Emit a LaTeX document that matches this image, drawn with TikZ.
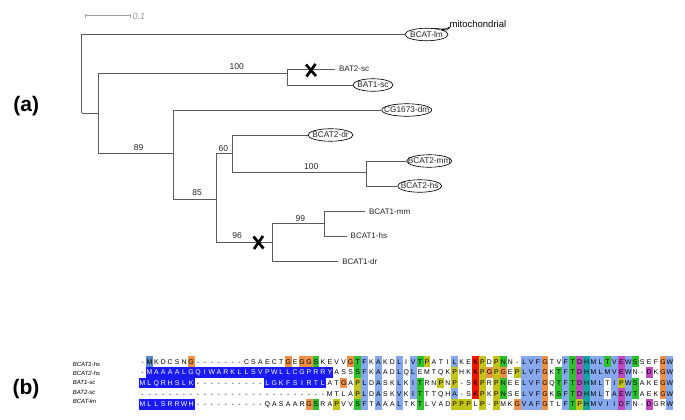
\documentclass[tikz,border=0pt]{standalone}
\usepackage{fontspec}
\setmainfont{Liberation Sans}
\usetikzlibrary{shapes.geometric}
\definecolor{cxblue}{HTML}{85A8EE}
\definecolor{cxorange}{HTML}{F09048}
\definecolor{cxgreen}{HTML}{2DC22D}
\definecolor{cxyellow}{HTML}{C4C416}
\definecolor{cxred}{HTML}{F01505}
\definecolor{cxmag}{HTML}{C048C0}
\definecolor{cxcyan}{HTML}{15A4A4}
\definecolor{seqblue}{HTML}{1A1AF5}
\definecolor{steelm}{HTML}{5B86C8}
\definecolor{treegray}{HTML}{5A5A5A}
\newcommand\cbg[3]{\fill[#3] ({139+(#2-1)*6.94},{361.6+(#1-1)*10.65-5.33}) rectangle ++(6.94,10.66);}
\newcommand\runbg[4]{\fill[#4] ({139+(#2-1)*6.94},{361.6+(#1-1)*10.65-5.33}) rectangle ({139+(#3)*6.94},{361.6+(#1-1)*10.65+5.33});}
\newcommand\seqrow[4]{\foreach \ch [count=\k from #2] in {#4} {\node[aa,text=#3] (a#1-\k) at ({139+(\k-0.5)*6.94},{361.6+(#1-1)*10.65}) {\ch};}}
\tikzset{
  br/.style={draw=treegray, line width=0.7pt},
  ell/.style={ellipse, draw=black, line width=0.65pt, fill=white, inner sep=0pt, minimum height=12.5pt},
  lab/.style={font=\fontsize{8.3}{9}\selectfont, inner sep=0pt, text=black!85},
  leaf/.style={font=\fontsize{8}{9}\selectfont, anchor=west, inner xsep=3.8pt, inner ysep=0pt, text=black!85},
  boot/.style={font=\fontsize{8.5}{10}\selectfont, inner sep=0pt, text=black!85},
  xmark/.style={line width=2.7pt, black},
  aa/.style={font=\fontsize{6.9}{7}\selectfont, inner sep=0pt, text height=5pt, text depth=0pt, anchor=center},
  nm/.style={font=\fontsize{6}{7}\selectfont\itshape, inner sep=0pt, anchor=west},
  panel/.style={font=\fontsize{21}{24}\selectfont\bfseries, inner sep=0pt}
}
\begin{document}
\begin{tikzpicture}[x=1pt,y=-1pt]
\useasboundingbox (0,0) rectangle (685,420);
\fill[white] (0,0) rectangle (685,420);

% ---------- panel labels ----------
\node[panel] (pa) at (26.3,105.8) {(a)};
\node[panel] (pb) at (26,389) {(b)};

% ---------- scale bar ----------
\coordinate (sb1) at (85,15.7);
\coordinate (sb2) at (130,15.7);
\draw[gray!75, line width=0.6pt] (sb1) -- (sb2);
\draw[gray!75, line width=0.6pt] ([yshift=-2pt]sb1) -- ([yshift=2pt]sb1);
\draw[gray!75, line width=0.6pt] ([yshift=-2pt]sb2) -- ([yshift=2pt]sb2);
\node[font=\fontsize{9}{10}\selectfont\itshape, text=gray!80, anchor=west, inner sep=0pt] (sbl) at (132.5,16.3) {0.1};

% ---------- tree internal nodes ----------
\coordinate (r) at (81.7,113);
\coordinate (A) at (98.3,113);
\coordinate (BAT) at (287.7,73);
\coordinate (B) at (173.3,153);
\coordinate (C) at (216,199);
\coordinate (D) at (232,153);
\coordinate (E) at (366.7,172.7);
\coordinate (F) at (272,242.7);
\coordinate (G) at (324.3,223.3);

% ---------- leaves ----------
\node[ell, minimum width=43pt] (lm) at (426.5,34.5) {};
\node[lab] (lmt) at (lm.center) {BCAT-lm};
\node[ell, minimum width=40pt] (bat1) at (373,85) {};
\node[lab] (bat1t) at (bat1.center) {BAT1-sc};
\node[ell, minimum width=50pt] (cg) at (406.7,110) {};
\node[lab] (cgt) at (cg.center) {CG1673-dm};
\node[ell, minimum width=45pt] (dr) at (330.5,135) {};
\node[lab] (drt) at (dr.center) {BCAT2-dr};
\node[ell, minimum width=45pt] (mm) at (429.2,161) {};
\node[lab] (mmt) at (mm.center) {BCAT2-mm};
\node[ell, minimum width=44pt] (hs) at (419.7,186) {};
\node[lab] (hst) at (hs.center) {BCAT2-hs};
\node[leaf] (bat2) at (335,69) {BAT2-sc};
\node[leaf] (b1mm) at (365,211.7) {BCAT1-mm};
\node[leaf] (b1hs) at (346.7,236) {BCAT1-hs};
\node[leaf] (b1dr) at (338.3,261.7) {BCAT1-dr};
\node[font=\fontsize{9.5}{11}\selectfont, anchor=west, inner sep=0pt] (mito) at (449.5,24) {mitochondrial};
\draw[black, line width=0.65pt, fill=white] (lm.40) .. controls (446,29.5) .. (450,27) .. controls (448.5,29.5) and (448,31) .. (lm.18);

% ---------- branches ----------
\draw[br] (r) |- (lm.west);
\draw[br] (r) -- (A);
\draw[br] (A) |- (BAT);
\draw[br] (A) |- (B);
\draw[br] (BAT) |- (bat2.west);
\draw[br] (BAT) |- (bat1.west);
\draw[br] (B) |- (cg.west);
\draw[br] (B) |- (C);
\draw[br] (C) |- (D);
\draw[br] (C) |- (F);
\draw[br] (D) |- (dr.west);
\draw[br] (D) |- (E);
\draw[br] (E) |- (mm.west);
\draw[br] (E) |- (hs.west);
\draw[br] (F) |- (G);
\draw[br] (F) |- (b1dr.west);
\draw[br] (G) |- (b1mm.west);
\draw[br] (G) |- (b1hs.west);

% ---------- loss marks ----------
\draw[xmark] (306,64.5) -- (316,76);
\draw[xmark] (315.5,64) -- (306.5,76.5);
\draw[xmark] (253.5,236.5) -- (263.5,248.5);
\draw[xmark] (263,236) -- (254,249);

% ---------- bootstrap values ----------
\node[boot] (bs1) at (236.7,66.3) {100};
\node[boot] (bs2) at (138.7,147.7) {89};
\node[boot] (bs3) at (223.3,148.3) {60};
\node[boot] (bs4) at (311.2,166.7) {100};
\node[boot] (bs5) at (197,192.3) {85};
\node[boot] (bs6) at (300.3,218.3) {99};
\node[boot] (bs7) at (237.2,236) {96};

% ---------- alignment backgrounds ----------
\runbg{2}{2}{28}{seqblue}
\runbg{3}{1}{8}{seqblue}
\runbg{3}{19}{27}{seqblue}
\runbg{5}{1}{8}{seqblue}
\cbg{1}{2}{steelm}
\foreach \c in {33,35,38,56,57,58,62,66,67,69,71,77} {\foreach \r in {1,...,5} {\cbg{\r}{\c}{cxblue}}}
\foreach \r/\c in {1/40,2/40,3/40,4/40,1/46,4/46,2/68,5/68} {\cbg{\r}{\c}{cxblue}}
\foreach \r in {1,...,5} {\cbg{\r}{65}{cxcyan}}
\foreach \r/\c in {1/8,1/22,1/24,1/25,1/31,1/59,1/76,2/51,2/53,2/59,2/76,3/30,3/59,3/76,4/59,4/76,5/25,5/55,5/59} {\cbg{\r}{\c}{cxorange}}
\foreach \r/\c in {1/26,1/32,1/41,1/53,1/63,1/68,1/72,2/32,2/61,2/63,3/41,3/53,3/61,3/63,3/72,4/41,4/53,4/61,4/63,4/72,5/26,5/32,5/41,5/63} {\cbg{\r}{\c}{cxgreen}}
\foreach \r/\c in {1/42,1/50,1/52,2/46,2/50,2/52,2/55,3/32,3/44,3/46,3/50,3/52,3/70,4/32,4/50,4/52,5/29,5/46,5/47,5/48,5/50,5/52,5/64} {\cbg{\r}{\c}{cxyellow}}
\foreach \r in {1,...,4} {\cbg{\r}{49}{cxred}}
\foreach \r/\c in {1/64,1/70,2/64,2/70,2/74,3/64,4/64,4/70,5/70,5/74} {\cbg{\r}{\c}{cxmag}}

% ---------- alignment letters ----------
\seqrow{1}{1}{black}{-,M,K,D,C,S,N,G,-,-,-,-,-,-,-,C,S,A,E,C,T,G,E,G,G,S,K,E,V,V,G,T,F,K,A,K,D,L,I,V,T,P,A,T,I,L,K,E,K,P,D,P,N,N,-,L,V,F,G,T,V,F,T,D,H,M,L,T,V,E,W,S,S,E,F,G,W}
\seqrow{2}{1}{black}{-}
\seqrow{2}{2}{white}{M,A,A,A,A,L,G,Q,I,W,A,R,K,L,L,S,V,P,W,L,L,C,G,P,R,R,Y}
\seqrow{2}{29}{black}{A,S,S,S,F,K,A,A,D,L,Q,L,E,M,T,Q,K,P,H,K,K,P,G,P,G,E,P,L,V,F,G,K,T,F,T,D,H,M,L,M,V,E,W,N,-,D,K,G,W}
\seqrow{3}{1}{white}{M,L,Q,R,H,S,L,K}
\seqrow{3}{9}{black}{-,-,-,-,-,-,-,-,-,-}
\seqrow{3}{19}{white}{L,G,K,F,S,I,R,T,L}
\seqrow{3}{28}{black}{A,T,G,A,P,L,D,A,S,K,L,K,I,T,R,N,P,N,P,-,S,K,P,R,P,N,E,E,L,V,F,G,Q,T,F,T,D,H,M,L,T,I,P,W,S,A,K,E,G,W}
\seqrow{4}{1}{black}{-,-,-,-,-,-,-,-,-,-,-,-,-,-,-,-,-,-,-,-,-,-,-,-,-,-,-}
\seqrow{4}{28}{black}{M,T,L,A,P,L,D,A,S,K,V,K,I,T,T,T,Q,H,A,-,S,K,P,K,P,N,S,E,L,V,F,G,K,S,F,T,D,H,M,L,T,A,E,W,T,A,E,K,G,W}
\seqrow{5}{1}{white}{M,L,L,S,R,R,W,H}
\seqrow{5}{9}{black}{-,-,-,-,-,-,-,-,-,-,Q,A,S,A,A,R,G,S,R,A,P,V,V,S,F,T,A,A,A,L,T,K,T,L,V,A,D,P,P,P,L,P,-,P,M,K,G,V,A,F,G,T,L,F,T,P,H,M,V,I,I,D,F,N,-,D,G,R,W}

% ---------- sequence names ----------
\node[nm] (n1) at (72.7,364) {BCAT1-hs};
\node[nm] (n2) at (72.7,373.4) {BCAT2-hs};
\node[nm] (n3) at (72.7,382.8) {BAT1-sc};
\node[nm] (n4) at (72.7,392.5) {BAT2-sc};
\node[nm] (n5) at (72.7,401.8) {BCAT-lm};
\end{tikzpicture}
\end{document}
